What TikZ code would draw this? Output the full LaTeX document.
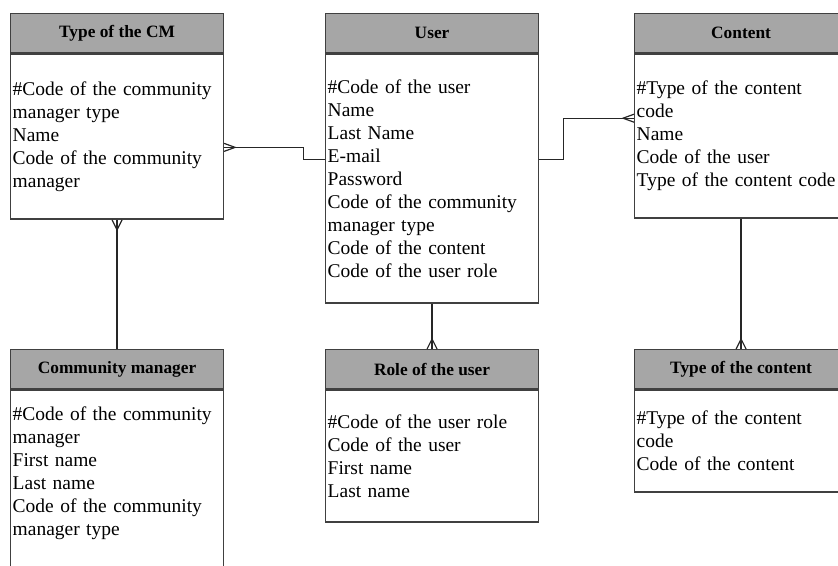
\documentclass[tikz,border=0pt]{standalone}
\usepackage{fontspec}
\setmainfont{Liberation Serif}
\usetikzlibrary{positioning}
\definecolor{hdrgray}{RGB}{166,166,166}
\definecolor{edgegray}{RGB}{64,64,64}

\begin{document}
\begin{tikzpicture}[
        x=0.75pt, y=-0.75pt,
        ent/.style={
            draw=edgegray, line width=1.1pt,
            minimum width=159.5pt, inner xsep=1.5pt, inner ysep=0pt
        },
        hdr/.style={ent, fill=hdrgray, minimum height=29.25pt,
            anchor=north west, font=\bfseries\fontsize{13}{15}\selectfont},
        attr/.style={ent, fill=white, text width=156.5pt, align=left,
            font=\fontsize{14.6}{17.25}\selectfont},
        rel/.style={draw=black!85, line width=0.9pt}
    ]
    \useasboundingbox (0,0) rectangle (838,565);

    % Type of the CM
    \node[hdr] (tcmh) at (10,13) {Type of the CM};
    \node[attr, minimum height=123.75pt, below=0pt of tcmh] (tcmb)
        {\#Code of the community\\manager type\\Name\\Code of the community\\manager};

    % User
    \node[hdr] (userh) at (325,13) {User};
    \node[attr, minimum height=186.75pt, below=0pt of userh] (userb)
        {\#Code of the user\\Name\\Last Name\\E-mail\\Password\\Code of the community\\manager type\\Code of the content\\Code of the user role};

    % Content
    \node[hdr] (conth) at (634,13) {Content};
    \node[attr, minimum height=123pt, below=0pt of conth] (contb)
        {\#Type of the content\\code\\Name\\Code of the user\\Type of the content code};

    % Community manager
    \node[hdr] (cmh) at (10,349) {Community manager};
    \node[attr, minimum height=156pt, below=0pt of cmh] (cmb)
        {\#Code of the community\\manager\\First name\\Last name\\Code of the community\\manager type\\ \mbox{}\\ \mbox{}};

    % Role of the user
    \node[hdr] (roleh) at (325,349) {Role of the user};
    \node[attr, minimum height=99pt, below=0pt of roleh] (roleb)
        {\#Code of the user role\\Code of the user\\First name\\Last name};

    % Type of the content
    \node[hdr] (toch) at (634,349) {Type of the content};
    \node[attr, minimum height=76.5pt, below=0pt of toch] (tocb)
        {\#Type of the content\\code\\Code of the content};

    % links
    \draw[rel] ([yshift=-8pt]tcmb.east) -- ++(79,0) |- ([yshift=14.6pt]userb.west);
    \draw[rel] ([yshift=-8pt]tcmb.east) ++(0,-4) -- ++(11,4) -- ++(-11,4);

    \draw[rel] ([yshift=14.6pt]userb.east) -- ++(24,0) |- ([yshift=13.5pt]contb.west);
    \draw[rel] ([yshift=13.5pt]contb.west) ++(0,-4) -- ++(-11,4) -- ++(11,4);

    \draw[rel] (tcmb.south) -- (cmh.north);
    \draw[rel] (tcmb.south) ++(-5,0) -- ++(5,10) -- ++(5,-10);

    \draw[rel] (userb.south) -- (roleh.north);
    \draw[rel] (roleh.north) ++(-5,0) -- ++(5,-10) -- ++(5,10);

    \draw[rel] (contb.south) -- (toch.north);
    \draw[rel] (toch.north) ++(-5,0) -- ++(5,-10) -- ++(5,10);

\end{tikzpicture}
\end{document}
